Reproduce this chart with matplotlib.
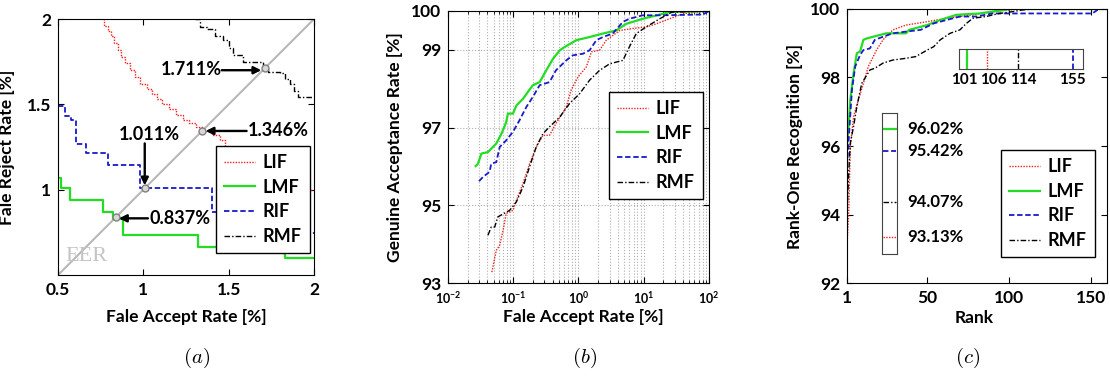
import numpy as np
import matplotlib.pyplot as plt
import matplotlib.transforms as mtransforms

plt.rcParams['font.family'] = ['Lato', 'DejaVu Sans']
plt.rcParams['font.weight'] = 'bold'
plt.rcParams['axes.labelweight'] = 'bold'
plt.rcParams['xtick.direction'] = 'in'
plt.rcParams['ytick.direction'] = 'in'
plt.rcParams['xtick.top'] = True
plt.rcParams['ytick.right'] = True

# series and styles
names = ['LIF', 'LMF', 'RIF', 'RMF']
colors = {'LIF': '#ee2020', 'LMF': '#22dd22', 'RIF': '#1a1acc', 'RMF': 'black'}
dashes = {'LIF': (0, (1, 1)), 'LMF': '-', 'RIF': (0, (3, 1.5)), 'RMF': (0, (4, 1.5, 1, 1.5))}
widths = {'LIF': 1.0, 'LMF': 1.6, 'RIF': 1.3, 'RMF': 1.0}

# (a) DET curves, FAR [%] vs FRR [%]
det_x = {
    'LIF': [0.75, 0.77, 0.79, 0.81, 0.83, 0.85, 0.87, 0.89, 0.92, 0.95, 0.98, 1.02, 1.05, 1.08,
            1.11, 1.15, 1.19, 1.23, 1.27, 1.31, 1.35, 1.40, 1.45, 1.48, 1.50, 1.53, 1.60, 1.75, 1.90, 2.0],
    'LMF': [0.5, 0.52, 0.568, 0.764, 0.822, 0.881, 1.32, 1.81, 1.83, 2.0],
    'RIF': [0.5, 0.539, 0.578, 0.607, 0.666, 0.793, 0.979, 1.40, 1.80, 2.0],
    'RMF': [1.30, 1.33, 1.37, 1.42, 1.467, 1.50, 1.525, 1.584, 1.68, 1.70, 1.73, 1.80, 1.83, 1.857,
            1.88, 1.906, 2.0],
}
det_y = {
    'LIF': [2.02, 1.96, 1.93, 1.90, 1.86, 1.82, 1.78, 1.74, 1.70, 1.66, 1.62, 1.59, 1.56, 1.53,
            1.50, 1.47, 1.44, 1.41, 1.39, 1.37, 1.345, 1.32, 1.29, 1.24, 1.18, 1.10, 1.06, 1.03, 1.0, 1.0],
    'LMF': [1.07, 1.01, 0.94, 0.87, 0.83, 0.735, 0.665, 0.63, 0.60, 0.60],
    'RIF': [1.49, 1.43, 1.41, 1.27, 1.213, 1.145, 1.008, 0.871, 0.745, 0.745],
    'RMF': [2.0, 1.955, 1.94, 1.90, 1.877, 1.83, 1.79, 1.75, 1.75, 1.71, 1.69, 1.685, 1.65, 1.62,
            1.58, 1.545, 1.545],
}
eer = [0.837, 1.011, 1.346, 1.711]
eer_labels = ['0.837%', '1.011%', '1.346%', '1.711%']

# (b) ROC curves, FAR [%] (log) vs GAR [%]
roc_x = {
    'LIF': [0.047, 0.055, 0.062, 0.07, 0.078, 0.099, 0.112, 0.141, 0.178, 0.225, 0.285, 0.36, 0.45,
            0.65, 0.77, 0.98, 1.32, 1.58, 2.1, 2.67, 4.3, 6.8, 10.9, 15.6, 24.9, 39.6, 100],
    'LMF': [0.0266, 0.0288, 0.0325, 0.041, 0.055, 0.066, 0.078, 0.083, 0.099, 0.112, 0.141, 0.168,
            0.20, 0.254, 0.32, 0.407, 0.517, 0.61, 0.93, 1.48, 2.37, 3.8, 5.4, 9.7, 19.8, 24.9, 100],
    'RIF': [0.0299, 0.0344, 0.0434, 0.046, 0.055, 0.062, 0.078, 0.099, 0.125, 0.159, 0.20, 0.254,
            0.36, 0.45, 0.65, 0.82, 1.17, 1.48, 1.88, 2.37, 3.35, 4.8, 6.0, 9.7, 19.8, 81, 100],
    'RMF': [0.041, 0.046, 0.052, 0.058, 0.088, 0.112, 0.141, 0.178, 0.225, 0.285, 0.36, 0.517, 0.73,
            1.04, 1.48, 2.1, 3.0, 4.8, 6.0, 7.7, 10.9, 17.6, 26.8, 100],
}
roc_y = {
    'LIF': [93.28, 93.84, 93.97, 94.36, 94.79, 94.87, 95.13, 95.56, 96.07, 96.50, 96.80, 96.80, 97.10,
            97.53, 97.96, 98.30, 98.56, 98.95, 98.99, 99.25, 99.50, 99.55, 99.59, 99.67, 99.80, 99.93, 100],
    'LMF': [96.01, 96.07, 96.33, 96.37, 96.59, 96.84, 97.14, 97.36, 97.36, 97.57, 97.74, 97.92, 98.09,
            98.17, 98.47, 98.77, 98.99, 99.07, 99.25, 99.33, 99.42, 99.50, 99.67, 99.80, 99.93, 99.97, 100],
    'RIF': [95.62, 95.73, 95.86, 96.07, 96.11, 96.50, 96.67, 96.89, 97.19, 97.53, 97.79, 98.09, 98.17,
            98.47, 98.73, 98.86, 98.90, 98.99, 99.25, 99.33, 99.42, 99.72, 99.80, 99.89, 99.89, 99.91, 100],
    'RMF': [94.23, 94.44, 94.44, 94.70, 94.87, 95.09, 95.47, 95.99, 96.50, 96.84, 97.02, 97.27, 97.62,
            97.87, 98.22, 98.47, 98.64, 98.73, 99.07, 99.42, 99.59, 99.80, 99.97, 100],
}

# (c) CMC curves, rank vs recognition [%]
cmc_x = {
    'LIF': [1, 2, 3, 5, 8, 11, 14, 19, 23, 29, 37, 50, 62, 78, 90, 106, 160],
    'LMF': [1, 2, 3, 5, 7, 9, 11, 13, 25, 37, 39, 50, 58, 68, 82, 101, 160],
    'RIF': [1, 2, 4, 6, 9, 11, 15, 18, 23, 29, 37, 46, 54, 62, 70, 80, 90, 100, 110, 151, 155, 160],
    'RMF': [1, 2, 3, 5, 7, 10, 15, 18, 23, 29, 37, 43, 50, 54, 58, 64, 70, 74, 78, 86, 94, 102, 108,
            114, 160],
}
cmc_y = {
    'LIF': [93.13, 94.04, 95.99, 96.86, 97.35, 97.83, 98.32, 98.80, 99.10, 99.39, 99.53, 99.63, 99.73,
            99.83, 99.92, 100, 100],
    'LMF': [96.02, 96.57, 97.35, 98.12, 98.71, 98.76, 99.10, 99.14, 99.29, 99.29, 99.39, 99.53, 99.68,
            99.83, 99.87, 100, 100],
    'RIF': [95.42, 96.18, 97.64, 98.32, 98.66, 98.80, 98.85, 99.10, 99.19, 99.29, 99.34, 99.39, 99.58,
            99.68, 99.78, 99.78, 99.87, 99.87, 99.87, 99.87, 100, 100],
    'RMF': [94.07, 95.20, 96.08, 96.57, 97.15, 97.83, 98.22, 98.27, 98.42, 98.51, 98.56, 98.61, 98.80,
            98.90, 99.10, 99.29, 99.39, 99.58, 99.73, 99.78, 99.87, 99.92, 99.97, 100, 100],
}
rank_one = {'LMF': 96.02, 'RIF': 95.42, 'RMF': 94.07, 'LIF': 93.13}
rank_full = {'LMF': 101, 'LIF': 106, 'RMF': 114, 'RIF': 155}

narrow = ['Liberation Sans Narrow', 'Lato']

fig = plt.figure(figsize=(11.1, 3.78), dpi=100)


def style_legend(ax, anchor):
    leg = ax.legend(loc='upper right', bbox_to_anchor=anchor, borderaxespad=0, fancybox=False,
                    edgecolor='black', framealpha=1, fontsize=13, handlelength=1.7,
                    labelspacing=0.42, handletextpad=0.45, borderpad=0.45)
    leg.get_frame().set_linewidth(1.0)


# ---- (a) ----
ax = fig.add_axes([0.0523, 0.2725, 0.2306, 0.6772])
ax.plot([0.5, 2], [0.5, 2], color='#b8b8b8', lw=1.5, zorder=1)
for n in names:
    ax.plot(det_x[n], det_y[n], drawstyle='steps-post', color=colors[n], ls=dashes[n],
            lw=widths[n], label=n, zorder=2)
ax.plot(eer, eer, 'o', mfc='#d8d8d8', mec='#808080', ms=5, mew=1, zorder=4)
ax.text(0.541, 0.581, 'EER', color='#c4c4c4', fontsize=16, fontweight='normal',
        family='Liberation Serif', va='baseline')
arrow = dict(arrowstyle='-|>', color='black', lw=1.7, mutation_scale=11, shrinkA=0, shrinkB=0)
ax.annotate('', xy=(0.857, 0.832), xytext=(1.027, 0.832), arrowprops=arrow, zorder=5)
ax.text(1.037, 0.832, eer_labels[0], fontsize=13, ha='left', va='center')
ax.annotate('', xy=(1.008, 1.025), xytext=(1.008, 1.271), arrowprops=arrow, zorder=5)
ax.text(1.038, 1.326, eer_labels[1], fontsize=13, ha='center', va='center')
ax.annotate('', xy=(1.365, 1.344), xytext=(1.605, 1.344), arrowprops=arrow, zorder=5)
ax.text(1.613, 1.349, eer_labels[2], fontsize=13, ha='left', va='center')
ax.annotate('', xy=(1.691, 1.70), xytext=(1.459, 1.70), arrowprops=arrow, zorder=5)
ax.text(1.459, 1.703, eer_labels[3], fontsize=13, ha='right', va='center')
ax.set_xlim(0.5, 2)
ax.set_ylim(0.5, 2)
ax.set_xticks([0.5, 1, 1.5, 2], ['0.5', '1', '1.5', '2'])
ax.set_yticks([1, 1.5, 2], ['1', '1.5', '2'])
ax.tick_params(labelsize=12.5, length=4, pad=5)
ax.set_ylabel('Fale Reject Rate [%]', fontsize=12.5)
ax.yaxis.set_label_coords(-0.168, 0.5)
ax.set_xlabel('Fale Accept Rate [%]', fontsize=12.5, family=narrow)
ax.xaxis.set_label_coords(0.5, -0.164)
ax.xaxis.label.set_va('center')
style_legend(ax, (0.984, 0.504))

# ---- (b) ----
ax = fig.add_axes([0.4036, 0.2513, 0.2351, 0.7196])
for n in names:
    ax.plot(roc_x[n], roc_y[n], color=colors[n], ls=dashes[n], lw=widths[n], label=n)
ax.set_xscale('log')
ax.set_xlim(1e-2, 1e2)
ax.set_ylim(93, 100)
ax.set_yticks([93, 95, 97, 99, 100])
ax.grid(True, which='both', axis='x', ls=':', color='#b0b0b0', lw=0.8)
ax.grid(True, which='major', axis='y', ls=':', color='#b0b0b0', lw=0.8)
ax.tick_params(axis='y', labelsize=12.5, length=4, pad=5)
ax.tick_params(axis='x', which='major', labelsize=9, length=4, pad=5)
ax.tick_params(axis='x', which='minor', length=2)
ax.set_ylabel('Genuine Acceptance Rate [%]', fontsize=12.5)
ax.yaxis.set_label_coords(-0.172, 0.5)
ax.set_xlabel('Fale Accept Rate [%]', fontsize=12.5, family=narrow)
ax.xaxis.set_label_coords(0.52, -0.125)
ax.xaxis.label.set_va('center')
style_legend(ax, (0.977, 0.702))

# ---- (c) ----
ax = fig.add_axes([0.7631, 0.2513, 0.2342, 0.7249])
for n in names:
    ax.plot(cmc_x[n], cmc_y[n], color=colors[n], ls=dashes[n], lw=widths[n], label=n)
ax.set_xlim(1, 160)
ax.set_ylim(92, 100)
ax.set_xticks([1, 50, 100, 150])
ax.set_yticks([92, 94, 96, 98, 100])
ax.tick_params(labelsize=12.5, length=4, pad=5)
ax.set_ylabel('Rank-One Recognition [%]', fontsize=12.5)
ax.yaxis.set_label_coords(-0.169, 0.5)
ax.set_xlabel('Rank', fontsize=12.5, family=narrow)
ax.xaxis.set_label_coords(0.49, -0.128)
ax.xaxis.label.set_va('center')
style_legend(ax, (0.954, 0.485))

# inset: rank at which each reaches 100%
full_order = ['LMF', 'LIF', 'RMF', 'RIF']
line_pos = [0.065, 0.226, 0.476, 0.919]
label_pos = [0.045, 0.28, 0.515, 0.91]
ins = ax.inset_axes([0.431, 0.781, 0.477, 0.073])
for n, p in zip(full_order, line_pos):
    ins.axvline(p, color=colors[n], ls=dashes[n], lw=widths[n])
ins.set_xlim(0, 1)
ins.set_ylim(0, 1)
ins.set_yticks([])
ins.set_xticks(label_pos, [str(rank_full[n]) for n in full_order])
ins.tick_params(axis='x', length=0, labelsize=11, pad=3, top=False)
for s in ins.spines.values():
    s.set_linewidth(0.8)
    s.set_color('#444444')

# box: rank-one values
box = ax.inset_axes([0.135, 0.106, 0.058, 0.515])
box.set_xlim(0, 1)
box.set_ylim(92.68, 96.45)
box.set_xticks([])
box.set_yticks([])
trans = mtransforms.blended_transform_factory(box.transAxes, box.transData)
for n in ['LMF', 'RIF', 'RMF', 'LIF']:
    box.plot([0.05, 0.95], [rank_one[n], rank_one[n]], color=colors[n], ls=dashes[n], lw=widths[n])
    box.text(1.65, rank_one[n], '%.2f%%' % rank_one[n], transform=trans, fontsize=12,
             ha='left', va='center', clip_on=False)
for s in box.spines.values():
    s.set_linewidth(0.8)
    s.set_color('#444444')

# captions
for x, t in zip([197 / 1110, 585 / 1110, 968 / 1110], ['a', 'b', 'c']):
    fig.text(x, 1 - 358 / 378, r'$(%s)$' % t, fontsize=15, ha='center', va='center',
             math_fontfamily='cm')

fig.savefig('out.png', dpi=100)
